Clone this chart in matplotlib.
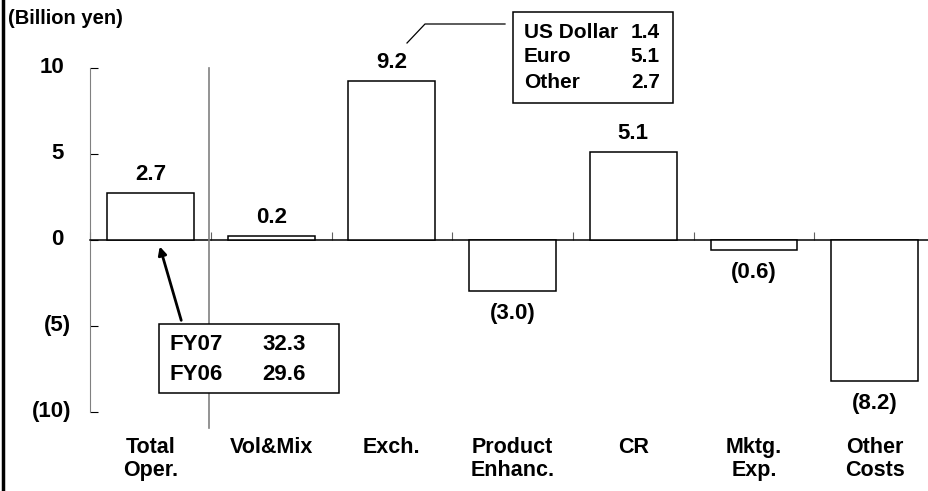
import matplotlib
matplotlib.use('Agg')
import matplotlib.pyplot as plt
from matplotlib.lines import Line2D
from matplotlib.patches import Rectangle
from matplotlib.transforms import blended_transform_factory

# --- DATA ---
categories = ['Total\nOper.', 'Vol&Mix', 'Exch.', 'Product\nEnhanc.', 'CR', 'Mktg.\nExp.', 'Other\nCosts']
values = [2.7, 0.2, 9.2, -3.0, 5.1, -0.6, -8.2]
yticks = [-10, -5, 0, 5, 10]
ytick_labels = ['(10)', '(5)', '0', '5', '10']
exch_names = ['US Dollar', 'Euro', 'Other']
exch_values = [1.4, 5.1, 2.7]
fy_names = ['FY07', 'FY06']
fy_values = [32.3, 29.6]

W, H = 929, 491
plt.rcParams['font.family'] = ['Liberation Sans', 'DejaVu Sans']
plt.rcParams['font.weight'] = 'bold'


def fx(px):
    return px / W


def fy(py):
    return 1 - py / H


def fmt(v):
    return f'({abs(v):.1f})' if v < 0 else f'{v:.1f}'


fig = plt.figure(figsize=(W / 100, H / 100), dpi=100)
ax = fig.add_axes([fx(90.2), fy(411.5), (935 - 90.2) / W, (411.5 - 67.5) / H])

x = list(range(len(categories)))
ax.bar(x, values, width=0.72, color='white', edgecolor='black', linewidth=1.1, zorder=3)

ax.set_xlim(-0.5, len(categories) - 0.5)
ax.set_ylim(-10, 10)

for s in ['top', 'right']:
    ax.spines[s].set_visible(False)
ax.spines['left'].set_color('#808080')
ax.spines['bottom'].set_position(('data', 0))
ax.spines['bottom'].set_color('black')
ax.spines['bottom'].set_linewidth(1.1)

# y ticks; labels drawn by hand so positives leave room for ")" like the original
ax.set_yticks(yticks)
ax.set_yticklabels([])
ax.tick_params(axis='y', direction='in', length=6, color='black')
ylab_tr = blended_transform_factory(fig.transFigure, ax.transData)
for t, lab in zip(yticks, ytick_labels):
    right = fx(71) if lab.startswith('(') else fx(64)
    ax.text(right, t, lab, transform=ylab_tr, ha='right', va='center',
            fontsize=16, fontweight='bold')

ax.set_xticks([i - 0.5 for i in x] + [len(categories) - 0.5])
ax.set_xticklabels([])
ax.tick_params(axis='x', direction='in', length=6, color='#606060')

# value labels
for xi, v in zip(x, values):
    if v >= 0:
        ax.annotate(fmt(v), (xi, v), xytext=(0, 8), textcoords='offset pixels',
                    ha='center', va='bottom', fontsize=16, fontweight='bold')
    else:
        ax.annotate(fmt(v), (xi, v), xytext=(0, -12), textcoords='offset pixels',
                    ha='center', va='top', fontsize=16, fontweight='bold')

# category labels
cat_tr = blended_transform_factory(ax.transData, fig.transFigure)
for xi, c in zip(x, categories):
    ax.text(xi, fy(437), c, transform=cat_tr, ha='center', va='top',
            fontsize=15.5, fontweight='bold', linespacing=1.1)

fig.text(fx(8), fy(18), '(Billion yen)', ha='left', va='center', fontsize=14.5, fontweight='bold')

# separator between total and components
fig.add_artist(Line2D([fx(209), fx(209)], [fy(68), fy(428)], color='#808080', lw=1.2))
# left frame line
fig.add_artist(Line2D([fx(3.5), fx(3.5)], [0, 1], color='black', lw=2.5))

# exchange breakdown box
fig.add_artist(Rectangle((fx(513), fy(103)), fx(673) - fx(513), fy(12) - fy(103),
                         fill=False, edgecolor='black', lw=1.1, transform=fig.transFigure))
for i, (n, v) in enumerate(zip(exch_names, exch_values)):
    yy = fy(32 + 25 * i)
    fig.text(fx(524), yy, n, ha='left', va='center', fontsize=15, fontweight='bold')
    fig.text(fx(660), yy, f'{v:.1f}', ha='right', va='center', fontsize=15, fontweight='bold')
fig.add_artist(Line2D([fx(407), fx(425), fx(505)], [fy(43), fy(24), fy(24)], color='black', lw=0.9))

# FY totals box
fig.add_artist(Rectangle((fx(159), fy(393)), fx(339) - fx(159), fy(324) - fy(393),
                         facecolor='white', edgecolor='black', lw=1.1,
                         transform=fig.transFigure, zorder=5))
for i, (n, v) in enumerate(zip(fy_names, fy_values)):
    yy = fy(345 + 29 * i)
    fig.text(fx(170), yy, n, ha='left', va='center', fontsize=16, fontweight='bold', zorder=6)
    fig.text(fx(262), yy, f'{v:.1f}', ha='left', va='center', fontsize=16, fontweight='bold', zorder=6)
ax.annotate('', xy=(0.07, -0.25), xycoords='data',
            xytext=(fx(182), fy(323)), textcoords='figure fraction',
            arrowprops=dict(arrowstyle='-|>', color='black', lw=2, mutation_scale=12),
            annotation_clip=False)

fig.savefig('out.png', dpi=100)
